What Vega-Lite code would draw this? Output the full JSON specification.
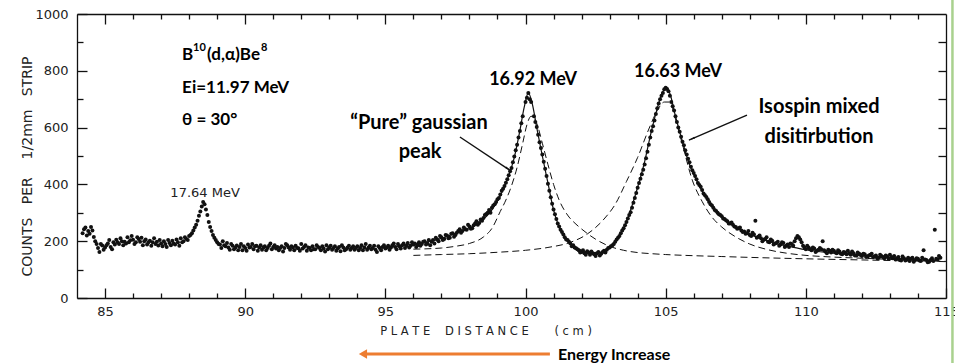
{
"$schema":"https://vega.github.io/schema/vega-lite/v6.json",
"width":869,"height":284,
"autosize":{"type":"none"},
"padding":{"left":77,"top":14,"right":9,"bottom":65},
"background":"white",
"config":{"view":{"stroke":null},"axis":{"grid":false,"domainColor":"#111","tickColor":"#111","labelColor":"#222","labelFont":"DejaVu Sans","labelFontSize":13,"titleFont":"DejaVu Sans","titleFontWeight":"normal","titleColor":"#222","titleFontSize":11.5,"domainWidth":1.3,"tickWidth":1.3,"labelOverlap":false,"labelFlush":false}},
"resolve":{"axis":{"x":"independent","y":"independent"}},
"datasets":{
"pts":[{"x":84.2,"y":228},{"x":84.3,"y":248},{"x":84.4,"y":236},{"x":84.5,"y":250},{"x":84.6,"y":215},{"x":84.7,"y":190},{"x":84.8,"y":162},{"x":84.9,"y":185},{"x":85.0,"y":178},{"x":85.1,"y":192},{"x":85.2,"y":180},{"x":85.3,"y":196},{"x":85.4,"y":205},{"x":85.5,"y":190},{"x":85.6,"y":200},{"x":85.7,"y":198},{"x":85.8,"y":214},{"x":85.9,"y":203},{"x":86.0,"y":205},{"x":86.1,"y":196},{"x":86.2,"y":208},{"x":86.3,"y":212},{"x":86.4,"y":200},{"x":86.5,"y":188},{"x":86.6,"y":202},{"x":86.7,"y":196},{"x":86.8,"y":190},{"x":86.9,"y":185},{"x":87.0,"y":192},{"x":87.1,"y":200},{"x":87.2,"y":180},{"x":87.3,"y":194},{"x":87.4,"y":202},{"x":87.5,"y":188},{"x":87.6,"y":196},{"x":87.7,"y":210},{"x":87.8,"y":200},{"x":87.9,"y":208},{"x":88.0,"y":218},{"x":88.1,"y":228},{"x":88.2,"y":248},{"x":88.3,"y":272},{"x":88.4,"y":305},{"x":88.45,"y":322},{"x":88.5,"y":338},{"x":88.55,"y":330},{"x":88.6,"y":312},{"x":88.7,"y":268},{"x":88.8,"y":236},{"x":88.9,"y":212},{"x":89.0,"y":196},{"x":89.1,"y":188},{"x":89.2,"y":200},{"x":89.3,"y":182},{"x":89.4,"y":178},{"x":89.5,"y":190},{"x":89.6,"y":172},{"x":89.7,"y":185},{"x":89.8,"y":180},{"x":89.9,"y":168},{"x":90.0,"y":176},{"x":90.1,"y":188},{"x":90.2,"y":180},{"x":90.3,"y":172},{"x":90.4,"y":184},{"x":90.5,"y":178},{"x":90.6,"y":170},{"x":90.7,"y":182},{"x":90.8,"y":176},{"x":90.9,"y":192},{"x":91.0,"y":180},{"x":91.1,"y":174},{"x":91.2,"y":168},{"x":91.3,"y":182},{"x":91.4,"y":176},{"x":91.5,"y":186},{"x":91.6,"y":170},{"x":91.7,"y":178},{"x":91.8,"y":184},{"x":91.9,"y":175},{"x":92.0,"y":190},{"x":92.1,"y":180},{"x":92.2,"y":166},{"x":92.3,"y":176},{"x":92.4,"y":182},{"x":92.5,"y":172},{"x":92.6,"y":180},{"x":92.7,"y":168},{"x":92.8,"y":174},{"x":92.9,"y":186},{"x":93.0,"y":178},{"x":93.1,"y":170},{"x":93.2,"y":182},{"x":93.3,"y":174},{"x":93.4,"y":165},{"x":93.5,"y":178},{"x":93.6,"y":172},{"x":93.7,"y":184},{"x":93.8,"y":176},{"x":93.9,"y":170},{"x":94.0,"y":182},{"x":94.1,"y":176},{"x":94.2,"y":168},{"x":94.3,"y":190},{"x":94.4,"y":178},{"x":94.5,"y":172},{"x":94.6,"y":184},{"x":94.7,"y":162},{"x":94.8,"y":176},{"x":94.9,"y":180},{"x":95.0,"y":174},{"x":95.1,"y":184},{"x":95.2,"y":178},{"x":95.3,"y":192},{"x":95.4,"y":172},{"x":95.5,"y":182},{"x":95.6,"y":186},{"x":95.7,"y":176},{"x":95.8,"y":194},{"x":95.9,"y":184},{"x":96.0,"y":188},{"x":96.1,"y":180},{"x":96.2,"y":196},{"x":96.3,"y":190},{"x":96.4,"y":200},{"x":96.5,"y":192},{"x":96.6,"y":186},{"x":96.7,"y":204},{"x":96.8,"y":212},{"x":96.9,"y":200},{"x":97.0,"y":214},{"x":97.1,"y":208},{"x":97.2,"y":220},{"x":97.3,"y":212},{"x":97.4,"y":228},{"x":97.5,"y":222},{"x":97.6,"y":236},{"x":97.7,"y":230},{"x":97.8,"y":248},{"x":97.9,"y":240},{"x":98.0,"y":252},{"x":98.1,"y":246},{"x":98.2,"y":262},{"x":98.3,"y":258},{"x":98.4,"y":276},{"x":98.5,"y":282},{"x":98.6,"y":296},{"x":98.7,"y":310},{"x":98.8,"y":318},{"x":98.9,"y":330},{"x":99.0,"y":348},{"x":99.1,"y":364},{"x":99.2,"y":385},{"x":99.3,"y":406},{"x":99.35,"y":418},{"x":99.4,"y":432},{"x":99.45,"y":446},{"x":99.5,"y":458},{"x":99.55,"y":478},{"x":99.6,"y":498},{"x":99.65,"y":520},{"x":99.7,"y":540},{"x":99.75,"y":565},{"x":99.8,"y":588},{"x":99.85,"y":615},{"x":99.9,"y":640},{"x":100.0,"y":690},{"x":100.05,"y":705},{"x":100.1,"y":722},{"x":100.15,"y":700},{"x":100.2,"y":690},{"x":100.3,"y":640},{"x":100.35,"y":620},{"x":100.4,"y":602},{"x":100.45,"y":575},{"x":100.5,"y":548},{"x":100.55,"y":528},{"x":100.6,"y":505},{"x":100.65,"y":480},{"x":100.7,"y":455},{"x":100.75,"y":430},{"x":100.8,"y":402},{"x":100.85,"y":378},{"x":100.9,"y":355},{"x":100.95,"y":332},{"x":101.0,"y":312},{"x":101.05,"y":295},{"x":101.1,"y":278},{"x":101.2,"y":252},{"x":101.3,"y":232},{"x":101.4,"y":214},{"x":101.5,"y":204},{"x":101.6,"y":192},{"x":101.7,"y":186},{"x":101.8,"y":175},{"x":101.9,"y":168},{"x":102.0,"y":162},{"x":102.1,"y":158},{"x":102.2,"y":165},{"x":102.3,"y":152},{"x":102.4,"y":158},{"x":102.5,"y":148},{"x":102.6,"y":162},{"x":102.7,"y":156},{"x":102.8,"y":166},{"x":102.9,"y":170},{"x":103.0,"y":178},{"x":103.1,"y":186},{"x":103.2,"y":198},{"x":103.3,"y":212},{"x":103.4,"y":228},{"x":103.5,"y":246},{"x":103.6,"y":268},{"x":103.7,"y":292},{"x":103.8,"y":318},{"x":103.85,"y":335},{"x":103.9,"y":352},{"x":103.95,"y":370},{"x":104.0,"y":388},{"x":104.05,"y":405},{"x":104.1,"y":420},{"x":104.15,"y":436},{"x":104.2,"y":452},{"x":104.25,"y":470},{"x":104.3,"y":492},{"x":104.35,"y":515},{"x":104.4,"y":540},{"x":104.45,"y":565},{"x":104.5,"y":588},{"x":104.55,"y":605},{"x":104.6,"y":625},{"x":104.65,"y":648},{"x":104.7,"y":668},{"x":104.75,"y":685},{"x":104.8,"y":700},{"x":104.9,"y":722},{"x":104.95,"y":735},{"x":105.0,"y":740},{"x":105.05,"y":736},{"x":105.1,"y":728},{"x":105.2,"y":690},{"x":105.25,"y":675},{"x":105.3,"y":660},{"x":105.35,"y":640},{"x":105.4,"y":620},{"x":105.45,"y":600},{"x":105.5,"y":585},{"x":105.6,"y":550},{"x":105.7,"y":520},{"x":105.8,"y":490},{"x":105.9,"y":462},{"x":106.0,"y":440},{"x":106.1,"y":418},{"x":106.2,"y":398},{"x":106.3,"y":380},{"x":106.4,"y":362},{"x":106.5,"y":348},{"x":106.6,"y":330},{"x":106.7,"y":318},{"x":106.8,"y":306},{"x":106.9,"y":295},{"x":107.0,"y":288},{"x":107.1,"y":278},{"x":107.2,"y":270},{"x":107.3,"y":262},{"x":107.4,"y":258},{"x":107.5,"y":250},{"x":107.6,"y":246},{"x":107.7,"y":238},{"x":107.8,"y":234},{"x":107.9,"y":228},{"x":108.0,"y":222},{"x":108.1,"y":230},{"x":108.2,"y":272},{"x":108.3,"y":216},{"x":108.4,"y":210},{"x":108.5,"y":205},{"x":108.6,"y":214},{"x":108.7,"y":196},{"x":108.8,"y":202},{"x":108.9,"y":192},{"x":109.0,"y":198},{"x":109.1,"y":188},{"x":109.2,"y":194},{"x":109.3,"y":184},{"x":109.4,"y":180},{"x":109.5,"y":190},{"x":109.6,"y":200},{"x":109.7,"y":218},{"x":109.8,"y":206},{"x":109.9,"y":184},{"x":110.0,"y":172},{"x":110.1,"y":178},{"x":110.2,"y":168},{"x":110.3,"y":174},{"x":110.4,"y":166},{"x":110.5,"y":176},{"x":110.6,"y":200},{"x":110.7,"y":164},{"x":110.8,"y":170},{"x":110.9,"y":160},{"x":111.0,"y":166},{"x":111.1,"y":158},{"x":111.2,"y":164},{"x":111.3,"y":154},{"x":111.4,"y":160},{"x":111.5,"y":166},{"x":111.6,"y":152},{"x":111.7,"y":158},{"x":111.8,"y":150},{"x":111.9,"y":156},{"x":112.0,"y":148},{"x":112.1,"y":154},{"x":112.2,"y":146},{"x":112.3,"y":152},{"x":112.4,"y":144},{"x":112.5,"y":150},{"x":112.6,"y":142},{"x":112.7,"y":148},{"x":112.8,"y":140},{"x":112.9,"y":146},{"x":113.0,"y":152},{"x":113.1,"y":140},{"x":113.2,"y":136},{"x":113.3,"y":144},{"x":113.4,"y":132},{"x":113.5,"y":140},{"x":113.6,"y":136},{"x":113.7,"y":130},{"x":113.8,"y":142},{"x":113.9,"y":134},{"x":114.0,"y":138},{"x":114.1,"y":130},{"x":114.2,"y":168},{"x":114.3,"y":134},{"x":114.4,"y":128},{"x":114.5,"y":140},{"x":114.6,"y":240},{"x":114.7,"y":136},{"x":114.8,"y":142},
{"x":84.25,"y":242},{"x":84.35,"y":220},{"x":84.45,"y":226},{"x":84.55,"y":238},{"x":84.65,"y":200},{"x":84.75,"y":176},{"x":84.85,"y":190},{"x":84.95,"y":170},{"x":85.05,"y":186},{"x":85.15,"y":204},{"x":85.25,"y":172},{"x":85.35,"y":188},{"x":85.45,"y":196},{"x":85.55,"y":210},{"x":85.65,"y":186},{"x":85.75,"y":192},{"x":85.85,"y":196},{"x":85.95,"y":218},{"x":86.05,"y":190},{"x":86.15,"y":214},{"x":86.25,"y":198},{"x":86.35,"y":186},{"x":86.45,"y":206},{"x":86.55,"y":196},{"x":86.65,"y":184},{"x":86.75,"y":210},{"x":86.85,"y":198},{"x":86.95,"y":204},{"x":87.05,"y":182},{"x":87.15,"y":190},{"x":87.25,"y":204},{"x":87.35,"y":186},{"x":87.45,"y":192},{"x":87.55,"y":206},{"x":87.65,"y":184},{"x":87.75,"y":196},{"x":87.85,"y":214},{"x":87.95,"y":204},{"x":88.05,"y":222},{"x":88.15,"y":238},{"x":88.25,"y":258},{"x":88.35,"y":290},{"x":88.65,"y":292},{"x":88.75,"y":250},{"x":88.85,"y":222},{"x":88.95,"y":204},{"x":89.05,"y":190},{"x":89.15,"y":176},{"x":89.25,"y":186},{"x":89.35,"y":194},{"x":89.45,"y":170},{"x":89.55,"y":184},{"x":89.65,"y":178},{"x":89.75,"y":168},{"x":89.85,"y":190},{"x":89.95,"y":182},{"x":90.05,"y":166},{"x":90.15,"y":178},{"x":90.25,"y":190},{"x":90.35,"y":182},{"x":90.45,"y":166},{"x":90.55,"y":186},{"x":90.65,"y":178},{"x":90.75,"y":168},{"x":90.85,"y":184},{"x":90.95,"y":172},{"x":91.05,"y":186},{"x":91.15,"y":180},{"x":91.25,"y":176},{"x":91.35,"y":164},{"x":91.45,"y":190},{"x":91.55,"y":178},{"x":91.65,"y":182},{"x":91.75,"y":168},{"x":91.85,"y":176},{"x":91.95,"y":166},{"x":92.05,"y":174},{"x":92.15,"y":186},{"x":92.25,"y":178},{"x":92.35,"y":168},{"x":92.45,"y":172},{"x":92.55,"y":186},{"x":92.65,"y":176},{"x":92.75,"y":182},{"x":92.85,"y":164},{"x":92.95,"y":172},{"x":93.05,"y":184},{"x":93.15,"y":176},{"x":93.25,"y":166},{"x":93.35,"y":180},{"x":93.45,"y":186},{"x":93.55,"y":168},{"x":93.65,"y":178},{"x":93.75,"y":170},{"x":93.85,"y":182},{"x":93.95,"y":176},{"x":94.05,"y":168},{"x":94.15,"y":186},{"x":94.25,"y":178},{"x":94.35,"y":170},{"x":94.45,"y":184},{"x":94.55,"y":176},{"x":94.65,"y":170},{"x":94.75,"y":182},{"x":94.85,"y":168},{"x":94.95,"y":186},{"x":95.05,"y":178},{"x":95.15,"y":170},{"x":95.25,"y":186},{"x":95.35,"y":180},{"x":95.45,"y":190},{"x":95.55,"y":174},{"x":95.65,"y":192},{"x":95.75,"y":184},{"x":95.85,"y":178},{"x":95.95,"y":196},{"x":96.05,"y":192},{"x":96.15,"y":186},{"x":96.25,"y":184},{"x":96.35,"y":198},{"x":96.45,"y":188},{"x":96.55,"y":204},{"x":96.65,"y":198},{"x":96.75,"y":192},{"x":96.85,"y":206},{"x":96.95,"y":218},{"x":97.05,"y":204},{"x":97.15,"y":222},{"x":97.25,"y":210},{"x":97.35,"y":226},{"x":97.45,"y":216},{"x":97.55,"y":230},{"x":97.65,"y":242},{"x":97.75,"y":236},{"x":97.85,"y":242},{"x":97.95,"y":258},{"x":98.05,"y":244},{"x":98.15,"y":256},{"x":98.25,"y":270},{"x":98.35,"y":264},{"x":98.45,"y":272},{"x":98.55,"y":292},{"x":98.65,"y":300},{"x":98.75,"y":300},{"x":98.85,"y":326},{"x":98.95,"y":338},{"x":99.05,"y":352},{"x":99.15,"y":378},{"x":99.25,"y":394},{"x":101.15,"y":262},{"x":101.25,"y":240},{"x":101.35,"y":224},{"x":101.45,"y":206},{"x":101.55,"y":198},{"x":101.65,"y":182},{"x":101.75,"y":178},{"x":101.85,"y":172},{"x":101.95,"y":160},{"x":102.05,"y":168},{"x":102.15,"y":152},{"x":102.25,"y":160},{"x":102.35,"y":164},{"x":102.45,"y":154},{"x":102.55,"y":158},{"x":102.65,"y":150},{"x":102.75,"y":162},{"x":102.85,"y":160},{"x":102.95,"y":176},{"x":103.05,"y":182},{"x":103.15,"y":190},{"x":103.25,"y":206},{"x":103.35,"y":218},{"x":103.45,"y":238},{"x":103.55,"y":256},{"x":103.65,"y":280},{"x":103.75,"y":302},{"x":104.85,"y":712},{"x":105.15,"y":712},{"x":105.55,"y":568},{"x":105.65,"y":538},{"x":105.75,"y":505},{"x":105.85,"y":478},{"x":105.95,"y":450},{"x":106.05,"y":430},{"x":106.15,"y":405},{"x":106.25,"y":392},{"x":106.35,"y":368},{"x":106.45,"y":356},{"x":106.55,"y":338},{"x":106.65,"y":326},{"x":106.75,"y":310},{"x":106.85,"y":300},{"x":106.95,"y":292},{"x":107.05,"y":280},{"x":107.15,"y":274},{"x":107.25,"y":262},{"x":107.35,"y":266},{"x":107.45,"y":252},{"x":107.55,"y":244},{"x":107.65,"y":248},{"x":107.75,"y":232},{"x":107.85,"y":226},{"x":107.95,"y":236},{"x":108.05,"y":218},{"x":108.15,"y":224},{"x":108.25,"y":212},{"x":108.35,"y":220},{"x":108.45,"y":200},{"x":108.55,"y":208},{"x":108.65,"y":198},{"x":108.75,"y":206},{"x":108.85,"y":188},{"x":108.95,"y":194},{"x":109.05,"y":184},{"x":109.15,"y":196},{"x":109.25,"y":180},{"x":109.35,"y":188},{"x":109.45,"y":192},{"x":109.55,"y":184},{"x":109.65,"y":210},{"x":109.75,"y":214},{"x":109.85,"y":196},{"x":109.95,"y":178},{"x":110.05,"y":184},{"x":110.15,"y":172},{"x":110.25,"y":178},{"x":110.35,"y":162},{"x":110.45,"y":170},{"x":110.55,"y":172},{"x":110.65,"y":168},{"x":110.75,"y":158},{"x":110.85,"y":166},{"x":110.95,"y":170},{"x":111.05,"y":160},{"x":111.15,"y":168},{"x":111.25,"y":156},{"x":111.35,"y":162},{"x":111.45,"y":154},{"x":111.55,"y":158},{"x":111.65,"y":164},{"x":111.75,"y":150},{"x":111.85,"y":160},{"x":111.95,"y":152},{"x":112.05,"y":156},{"x":112.15,"y":144},{"x":112.25,"y":150},{"x":112.35,"y":156},{"x":112.45,"y":146},{"x":112.55,"y":140},{"x":112.65,"y":152},{"x":112.75,"y":144},{"x":112.85,"y":150},{"x":112.95,"y":138},{"x":113.05,"y":144},{"x":113.15,"y":148},{"x":113.25,"y":140},{"x":113.35,"y":134},{"x":113.45,"y":146},{"x":113.55,"y":132},{"x":113.65,"y":142},{"x":113.75,"y":138},{"x":113.85,"y":128},{"x":113.95,"y":140},{"x":114.05,"y":132},{"x":114.15,"y":142},{"x":114.25,"y":136},{"x":114.35,"y":126},{"x":114.45,"y":134},{"x":114.55,"y":130},{"x":114.65,"y":138},{"x":114.75,"y":148}],
"solid":[{"x":95.0,"y":178},{"x":96.0,"y":190},{"x":96.5,"y":198},{"x":97.0,"y":210},{"x":97.5,"y":228},{"x":98.0,"y":245},{"x":98.4,"y":268},{"x":98.8,"y":310},{"x":99.1,"y":360},{"x":99.4,"y":430},{"x":99.6,"y":495},{"x":99.8,"y":590},{"x":99.95,"y":670},{"x":100.1,"y":722},{"x":100.25,"y":680},{"x":100.4,"y":600},{"x":100.6,"y":500},{"x":100.8,"y":405},{"x":101.0,"y":310},{"x":101.2,"y":250},{"x":101.4,"y":215},{"x":101.7,"y":185},{"x":102.0,"y":168},{"x":102.3,"y":160},{"x":102.6,"y":160},{"x":102.9,"y":172},{"x":103.2,"y":200},{"x":103.5,"y":245},{"x":103.75,"y":310},{"x":104.0,"y":390},{"x":104.25,"y":480},{"x":104.45,"y":570},{"x":104.65,"y":650},{"x":104.85,"y":715},{"x":105.0,"y":740},{"x":105.15,"y":720},{"x":105.35,"y":640},{"x":105.6,"y":550},{"x":105.85,"y":470},{"x":106.1,"y":415},{"x":106.4,"y":360},{"x":106.7,"y":315},{"x":107.0,"y":285},{"x":107.5,"y":250},{"x":108.0,"y":225},{"x":108.5,"y":205},{"x":109.0,"y":190},{"x":109.5,"y":180},{"x":110.0,"y":170},{"x":111.0,"y":158},{"x":112.0,"y":148},{"x":113.0,"y":141},{"x":114.0,"y":135},{"x":114.7,"y":132}],
"pure":[{"x":96.0,"y":172},{"x":97.0,"y":176},{"x":97.5,"y":182},{"x":98.0,"y":192},{"x":98.5,"y":215},{"x":98.8,"y":245},{"x":99.1,"y":305},{"x":99.3,"y":345},{"x":99.5,"y":395},{"x":99.7,"y":460},{"x":99.9,"y":545},{"x":100.05,"y":610},{"x":100.2,"y":640},{"x":100.4,"y":615},{"x":100.6,"y":545},{"x":100.8,"y":470},{"x":101.0,"y":400},{"x":101.2,"y":345},{"x":101.5,"y":292},{"x":101.8,"y":260},{"x":102.0,"y":243},{"x":102.5,"y":207},{"x":103.0,"y":182},{"x":103.5,"y":168},{"x":104.0,"y":160},{"x":104.5,"y":156},{"x":105.0,"y":153},{"x":106.0,"y":149},{"x":107.0,"y":146},{"x":108.0,"y":143},{"x":110.0,"y":138},{"x":112.0,"y":134},{"x":114.0,"y":130},{"x":115.0,"y":128}],
"mixed":[{"x":96.0,"y":150},{"x":97.0,"y":153},{"x":98.0,"y":156},{"x":99.0,"y":161},{"x":100.0,"y":168},{"x":100.8,"y":178},{"x":101.6,"y":196},{"x":102.2,"y":225},{"x":102.8,"y":278},{"x":103.2,"y":330},{"x":103.6,"y":410},{"x":104.0,"y":495},{"x":104.4,"y":595},{"x":104.7,"y":660},{"x":104.95,"y":690},{"x":105.15,"y":690},{"x":105.35,"y":630},{"x":105.6,"y":540},{"x":105.95,"y":415},{"x":106.3,"y":340},{"x":106.65,"y":285},{"x":107.0,"y":250},{"x":107.5,"y":215},{"x":108.0,"y":190},{"x":108.65,"y":170},{"x":109.3,"y":158},{"x":109.9,"y":151},{"x":111.0,"y":144},{"x":112.0,"y":140},{"x":113.0,"y":136},{"x":114.0,"y":132},{"x":115.0,"y":129}],
"lblL":[{"x":87.75,"y":856,"t":"B"},{"x":88.64,"y":856,"t":"(d,α)Be"},{"x":87.75,"y":739,"t":"Ei=11.97 MeV"},{"x":87.75,"y":627,"t":"θ = 30°"}],
"sup":[{"x":88.14,"y":882,"t":"10"},{"x":90.56,"y":882,"t":"8"}],
"lblM":[{"x":100.27,"y":768,"t":"16.92 MeV"},{"x":105.44,"y":796,"t":"16.63 MeV"}],
"lblB":[{"x":96.2,"y":616,"t":"“Pure” gaussian"},{"x":96.24,"y":514,"t":"peak"},{"x":110.47,"y":673,"t":"Isospin mixed"},{"x":110.47,"y":567,"t":"disitirbution"}],
"lbl17":[{"x":88.57,"y":370,"t":"17.64 MeV"}],
"energy":[{"x":101.16,"y":-200,"t":"Energy Increase"}],
"arrows":[{"x":97.66,"y":567,"x2":99.48,"y2":447},{"x":107.9,"y":644,"x2":105.83,"y2":556}],
"headP":[{"x":99.36,"y":456}],
"headI":[{"x":105.96,"y":562}],
"orange":[{"x":94.2,"y":-197,"x2":100.87}],
"green":[{"x":115.23,"y":-229,"y2":1049}]
},
"encoding":{
"x":{"field":"x","type":"quantitative","scale":{"domain":[84,115],"nice":false,"zero":false},"axis":null},
"y":{"field":"y","type":"quantitative","scale":{"domain":[0,1000],"nice":false,"zero":false},"axis":null}
},
"layer":[
{"data":{"name":"pts"},"mark":{"type":"circle","size":16,"color":"#111","opacity":1},
"encoding":{
"x":{"field":"x","type":"quantitative","scale":{"domain":[84,115],"nice":false,"zero":false},"axis":{"orient":"bottom","values":[85,90,95,100,105,110,115],"tickSize":-10,"labelPadding":17,"format":"d","title":"P L A T E \u00a0\u00a0 D I S T A N C E \u00a0\u00a0\u00a0\u00a0\u00a0 ( c m )","titleX":408.5,"titleY":36,"titleBaseline":"alphabetic","titleAlign":"center"}},
"y":{"field":"y","type":"quantitative","scale":{"domain":[0,1000],"nice":false,"zero":false},"axis":{"orient":"left","values":[0,200,400,600,800,1000],"tickSize":-10,"labelPadding":19,"format":"d","title":"COUNTS \u00a0\u00a0PER \u00a0\u00a0 1/2mm \u00a0\u00a0STRIP","titleFontSize":14,"titleX":-50,"titleY":152,"titleAngle":270,"titleBaseline":"middle","titleAlign":"center"}}
}},
{"data":{"name":"solid"},"mark":{"type":"line","color":"#111","strokeWidth":1.2,"interpolate":"monotone"},
"encoding":{
"x":{"field":"x","type":"quantitative","scale":{"domain":[84,115],"nice":false,"zero":false},"axis":{"orient":"bottom","values":[86,87,88,89,91,92,93,94,96,97,98,99,101,102,103,104,106,107,108,109,111,112,113,114],"tickSize":-5,"labels":false,"domain":false,"title":null}},
"y":{"field":"y","type":"quantitative","scale":{"domain":[0,1000],"nice":false,"zero":false},"axis":{"orient":"left","values":[100,300,500,700,900],"tickSize":-6,"labels":false,"domain":false,"title":null}}
}},
{"data":{"name":"pure"},"mark":{"type":"line","color":"#111","strokeWidth":1,"strokeDash":[7,4],"interpolate":"monotone"},
"encoding":{
"x":{"field":"x","type":"quantitative","scale":{"domain":[84,115],"nice":false,"zero":false},"axis":{"orient":"top","values":[85,90,95,100,105,110],"tickSize":-10,"labels":false,"domain":true,"title":null}},
"y":{"field":"y","type":"quantitative","scale":{"domain":[0,1000],"nice":false,"zero":false},"axis":{"orient":"right","values":[100,200,300,400,500,600,700,800,900],"tickSize":-8,"labels":false,"domain":true,"title":null}}
}},
{"data":{"name":"mixed"},"mark":{"type":"line","color":"#111","strokeWidth":1,"strokeDash":[7,4],"interpolate":"monotone"},
"encoding":{
"x":{"field":"x","type":"quantitative","scale":{"domain":[84,115],"nice":false,"zero":false},"axis":{"orient":"top","values":[86,87,88,89,91,92,93,94,96,97,98,99,101,102,103,104,106,107,108,109,111,112,113,114],"tickSize":-5,"labels":false,"domain":false,"title":null}},
"y":{"field":"y","type":"quantitative","scale":{"domain":[0,1000],"nice":false,"zero":false},"axis":null}
}},
{"data":{"name":"lblL"},"mark":{"type":"text","align":"left","font":"Lato","fontWeight":"bold","fontSize":17,"color":"#000"},"encoding":{"text":{"field":"t"}}},
{"data":{"name":"sup"},"mark":{"type":"text","align":"left","font":"Lato","fontWeight":"bold","fontSize":11,"color":"#000"},"encoding":{"text":{"field":"t"}}},
{"data":{"name":"lblM"},"mark":{"type":"text","align":"center","font":"Lato","fontWeight":"bold","fontSize":18,"color":"#000"},"encoding":{"text":{"field":"t"}}},
{"data":{"name":"lblB"},"mark":{"type":"text","align":"center","font":"Lato","fontWeight":"bold","fontSize":20,"color":"#000"},"encoding":{"text":{"field":"t"}}},
{"data":{"name":"lbl17"},"mark":{"type":"text","align":"center","font":"DejaVu Sans","fontSize":13,"color":"#222"},"encoding":{"text":{"field":"t"}}},
{"data":{"name":"energy"},"mark":{"type":"text","align":"left","font":"Lato","fontWeight":"bold","fontSize":16,"color":"#000"},"encoding":{"text":{"field":"t"}}},
{"data":{"name":"arrows"},"mark":{"type":"rule","color":"#111","strokeWidth":1.4},"encoding":{"x2":{"field":"x2"},"y2":{"field":"y2"}}},
{"data":{"name":"headP"},"mark":{"type":"point","shape":"wedge","size":60,"filled":true,"color":"#111","opacity":1,"angle":124},"encoding":{}},
{"data":{"name":"headI"},"mark":{"type":"point","shape":"wedge","size":60,"filled":true,"color":"#111","opacity":1,"angle":247},"encoding":{}},
{"data":{"name":"orange"},"mark":{"type":"rule","color":"#ED7D31","strokeWidth":3},"encoding":{"x2":{"field":"x2"}}},
{"data":{"name":"orange"},"mark":{"type":"point","shape":"triangle-left","size":90,"filled":true,"color":"#ED7D31","opacity":1},"encoding":{}},
{"data":{"name":"green"},"mark":{"type":"rule","color":"#A9D18E","strokeWidth":2.5},"encoding":{"y2":{"field":"y2"}}}
]
}
